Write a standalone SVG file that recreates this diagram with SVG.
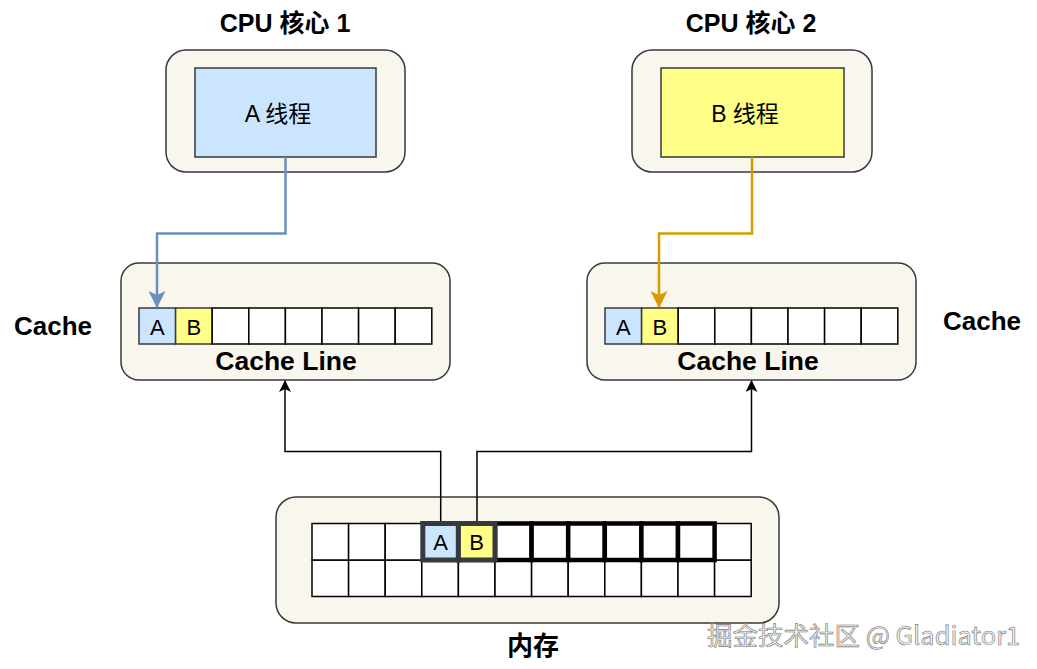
<svg xmlns="http://www.w3.org/2000/svg" width="1037" height="669" viewBox="0 0 1037 669">
<style>
.box{fill:#f9f7ed;stroke:#36393d;stroke-width:1.5}
.cell{fill:#ffffff;stroke:#000000;stroke-width:1.5}
.ca{fill:#cce5ff;stroke:#36393d;stroke-width:1.5}
.cb{fill:#ffff88;stroke:#36393d;stroke-width:1.5}
.ttl{font-family:"Liberation Sans","Noto Sans CJK SC",sans-serif;font-weight:bold;fill:#000;text-anchor:middle}
.lbl{font-family:"Liberation Sans","Noto Sans CJK SC",sans-serif;fill:#000;text-anchor:middle}
.wm{font-family:"Noto Sans CJK SC",sans-serif;font-size:25.5px;fill:#eeeeee;stroke:#777777;stroke-width:0.6}
</style>
<defs>
<marker id="arrK" viewBox="0 0 12 12" refX="11" refY="6" markerWidth="12" markerHeight="12" markerUnits="userSpaceOnUse" orient="auto">
<path d="M0,0 L12,6 L0,12 L3,6 Z" fill="#000"/>
</marker>
<marker id="arrB" viewBox="0 0 17 17" refX="16" refY="8.5" markerWidth="17" markerHeight="17" markerUnits="userSpaceOnUse" orient="auto">
<path d="M0,0 L17,8.5 L0,17 L4,8.5 Z" fill="#6c8ebf"/>
</marker>
<marker id="arrO" viewBox="0 0 17 17" refX="16" refY="8.5" markerWidth="17" markerHeight="17" markerUnits="userSpaceOnUse" orient="auto">
<path d="M0,0 L17,8.5 L0,17 L4,8.5 Z" fill="#d79b00"/>
</marker>
</defs>
<rect width="1037" height="669" fill="#ffffff"/>

<g id="cpu1">
<text class="ttl" x="285" y="32" font-size="25">CPU 核心 1</text>
<rect class="box" x="166" y="50" width="239" height="122" rx="20"/>
<rect class="ca" x="195" y="68" width="181" height="89"/>
<text class="lbl" x="278" y="122" font-size="23">A 线程</text>
</g>

<g id="cpu2">
<text class="ttl" x="751" y="32" font-size="25">CPU 核心 2</text>
<rect class="box" x="632" y="50" width="240" height="122" rx="20"/>
<rect class="cb" x="661" y="68" width="183" height="89"/>
<text class="lbl" x="745" y="122" font-size="23">B 线程</text>
</g>

<g id="cache1">
<text class="ttl" x="53" y="335" font-size="26">Cache</text>
<rect class="box" x="121" y="263" width="329" height="117" rx="18"/>
<rect class="ca" x="139" y="308" width="36.6" height="36"/>
<rect class="cb" x="175.6" y="308" width="36.6" height="36"/>
<rect class="cell" x="212.2" y="308" width="36.6" height="36"/>
<rect class="cell" x="248.8" y="308" width="36.6" height="36"/>
<rect class="cell" x="285.4" y="308" width="36.6" height="36"/>
<rect class="cell" x="322" y="308" width="36.6" height="36"/>
<rect class="cell" x="358.6" y="308" width="36.6" height="36"/>
<rect class="cell" x="395.2" y="308" width="36.6" height="36"/>
<text class="lbl" x="157.3" y="335" font-size="22">A</text>
<text class="lbl" x="193.9" y="335" font-size="22">B</text>
<text class="ttl" x="286" y="370" font-size="26.5">Cache Line</text>
</g>

<g id="cache2">
<text class="ttl" x="982" y="330" font-size="26">Cache</text>
<rect class="box" x="587" y="263" width="329" height="117" rx="18"/>
<rect class="ca" x="605" y="308" width="36.6" height="36"/>
<rect class="cb" x="641.6" y="308" width="36.6" height="36"/>
<rect class="cell" x="678.2" y="308" width="36.6" height="36"/>
<rect class="cell" x="714.8" y="308" width="36.6" height="36"/>
<rect class="cell" x="751.4" y="308" width="36.6" height="36"/>
<rect class="cell" x="788" y="308" width="36.6" height="36"/>
<rect class="cell" x="824.6" y="308" width="36.6" height="36"/>
<rect class="cell" x="861.2" y="308" width="36.6" height="36"/>
<text class="lbl" x="623.3" y="335" font-size="22">A</text>
<text class="lbl" x="659.9" y="335" font-size="22">B</text>
<text class="ttl" x="748" y="370" font-size="26.5">Cache Line</text>
</g>

<g id="memory">
<rect class="box" x="276" y="497" width="503" height="126" rx="20"/>
<g>
<rect class="cell" x="312" y="560" width="36.6" height="36.5"/>
<rect class="cell" x="348.6" y="560" width="36.6" height="36.5"/>
<rect class="cell" x="385.2" y="560" width="36.6" height="36.5"/>
<rect class="cell" x="421.8" y="560" width="36.6" height="36.5"/>
<rect class="cell" x="458.4" y="560" width="36.6" height="36.5"/>
<rect class="cell" x="495" y="560" width="36.6" height="36.5"/>
<rect class="cell" x="531.6" y="560" width="36.6" height="36.5"/>
<rect class="cell" x="568.2" y="560" width="36.6" height="36.5"/>
<rect class="cell" x="604.8" y="560" width="36.6" height="36.5"/>
<rect class="cell" x="641.4" y="560" width="36.6" height="36.5"/>
<rect class="cell" x="678" y="560" width="36.6" height="36.5"/>
<rect class="cell" x="714.6" y="560" width="36.6" height="36.5"/>
<rect class="cell" x="312" y="523.5" width="36.6" height="36.5"/>
<rect class="cell" x="348.6" y="523.5" width="36.6" height="36.5"/>
<rect class="cell" x="385.2" y="523.5" width="36.6" height="36.5"/>
<rect class="cell" x="714.6" y="523.5" width="36.6" height="36.5"/>
<rect x="495" y="523.5" width="36.6" height="36.5" fill="#fff" stroke="#000" stroke-width="4.5"/>
<rect x="531.6" y="523.5" width="36.6" height="36.5" fill="#fff" stroke="#000" stroke-width="4.5"/>
<rect x="568.2" y="523.5" width="36.6" height="36.5" fill="#fff" stroke="#000" stroke-width="4.5"/>
<rect x="604.8" y="523.5" width="36.6" height="36.5" fill="#fff" stroke="#000" stroke-width="4.5"/>
<rect x="641.4" y="523.5" width="36.6" height="36.5" fill="#fff" stroke="#000" stroke-width="4.5"/>
<rect x="678" y="523.5" width="36.6" height="36.5" fill="#fff" stroke="#000" stroke-width="4.5"/>
<rect x="422.8" y="523.5" width="35.6" height="36.5" fill="#cce5ff" stroke="#36393d" stroke-width="5"/>
<rect x="458.4" y="523.5" width="36.6" height="36.5" fill="#ffff88" stroke="#36393d" stroke-width="5"/>
</g>
<text class="lbl" x="440.5" y="550" font-size="22">A</text>
<text class="lbl" x="476.7" y="550" font-size="22">B</text>
<text class="ttl" x="533" y="655" font-size="26">内存</text>
</g>

<g id="connectors" fill="none">
<path d="M285.5,157 V233.5 H157 V307" stroke="#6c8ebf" stroke-width="2.5" marker-end="url(#arrB)"/>
<path d="M752,157 V233.5 H659 V307" stroke="#d79b00" stroke-width="2.5" marker-end="url(#arrO)"/>
<path d="M440.7,521 V451.5 H285 V381" stroke="#000" stroke-width="1.5" marker-end="url(#arrK)"/>
<path d="M477,521 V451.5 H751.5 V381" stroke="#000" stroke-width="1.5" marker-end="url(#arrK)"/>
</g>

<text class="wm" x="707" y="645">掘金技术社区 @ Gladiator1</text>
</svg>
